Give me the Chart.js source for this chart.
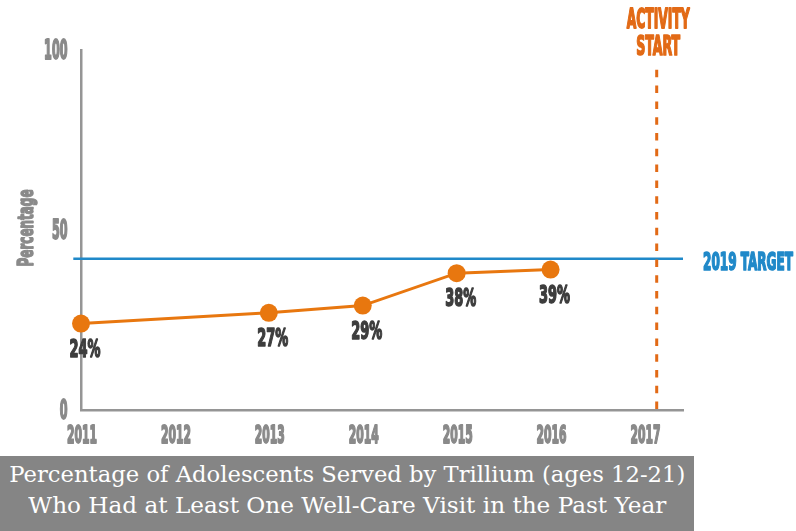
<!DOCTYPE html>
<html>
<head>
<meta charset="utf-8">
<script src="https://cdn.jsdelivr.net/npm/chart.js@4.4.1/dist/chart.umd.min.js"></script>
<style>
  html, body { margin: 0; padding: 0; background: #ffffff; }
  #wrap { position: relative; width: 796px; height: 531px; overflow: hidden; }
  #c { position: absolute; left: 0; top: 0; }
  #caption { position: absolute; left: 0; top: 456px; width: 694px; height: 75px; background: #858585; }
  .capline { position: absolute; left: 0; width: 694px; height: 24px; line-height: 24px; text-align: center;
             font-family: "DejaVu Serif", "Liberation Serif", serif; font-size: 21.5px; color: #ffffff; white-space: nowrap; }
  .capline span { display: inline-block; transform-origin: center center; }
</style>
</head>
<body>
<div id="wrap">
  <canvas id="c" width="796" height="531"></canvas>
  <div id="caption">
    <div class="capline" style="top:7px"><span id="cap1">Percentage of Adolescents Served by Trillium (ages 12-21)</span></div>
    <div class="capline" style="top:38px"><span id="cap2">Who Had at Least One Well-Care Visit in the Past Year</span></div>
  </div>
</div>
<script>
// ---- data ----
const tickYears = [2011, 2012, 2013, 2014, 2015, 2016, 2017];
const yTicks = [0, 50, 100];
const dataYears = [2011, 2013, 2014, 2015, 2016];
const pctValues = [24, 27, 29, 38, 39];
const targetValue = 42;
const targetLabel = '2019 TARGET';
const activityYear = 2017.13;
const activityTop = 94.5;
const activityLabel = ['ACTIVITY', 'START'];
const yTitle = 'Percentage';

const FAM = "'Liberation Sans Narrow', 'DejaVu Sans Condensed', 'Liberation Sans', sans-serif";
const ORANGE = '#e8770f';
const DORANGE = '#e26a16';
const BLUE = '#2089c9';
const GRAY = '#8a8a8a';
const DARK = '#3d3d3d';

// fit caption lines to widths
function fitCap(id, w) {
  const el = document.getElementById(id);
  const k = w / el.getBoundingClientRect().width;
  el.style.transform = 'scaleX(' + k + ')';
}
fitCap('cap1', 676);
fitCap('cap2', 638);

let K = null;
function condK(ctx) {
  if (K === null) {
    ctx.save();
    ctx.font = 'bold 25px ' + FAM;
    K = 30 / ctx.measureText('2011').width;
    ctx.restore();
  }
  return K;
}
// draw condensed bold text; optional target width w
function drawCond(ctx, text, x, y, size, color, align, rot, w) {
  ctx.save();
  ctx.font = 'bold ' + size + 'px ' + FAM;
  const k = w ? w / ctx.measureText(text).width : condK(ctx);
  ctx.fillStyle = color;
  ctx.strokeStyle = color;
  ctx.lineJoin = 'round';
  ctx.lineWidth = 0.9 / k;
  ctx.textAlign = align;
  ctx.textBaseline = 'alphabetic';
  ctx.translate(x, y);
  if (rot) ctx.rotate(rot);
  ctx.scale(k, 1);
  ctx.fillText(text, 0, 0);
  ctx.strokeText(text, 0, 0);
  ctx.restore();
}

const textPlugin = {
  id: 'texts',
  afterDraw(chart) {
    const ctx = chart.ctx;
    const xs = chart.scales.x, ys = chart.scales.y;
    // x tick labels
    xs.ticks.forEach(t => {
      drawCond(ctx, String(t.value), xs.getPixelForValue(t.value) + 1, 443, 25, GRAY, 'center', 0, 30);
    });
    // y tick labels
    ys.ticks.forEach(t => {
      const s = String(t.value);
      drawCond(ctx, s, 67.5, ys.getPixelForValue(t.value) + 8.5, 26, GRAY, 'right', 0, s.length * 7.8);
    });
    // y title
    drawCond(ctx, yTitle, 33, 228, 22, GRAY, 'center', -Math.PI / 2, 77);
    // data labels
    const meta = chart.getDatasetMeta(0);
    meta.data.forEach((pt, i) => {
      drawCond(ctx, pctValues[i] + '%', pt.x + 4, pt.y + 33, 25, DARK, 'center', 0, 31);
    });
    // target label
    drawCond(ctx, targetLabel, 703, ys.getPixelForValue(targetValue) + 10.7, 25, BLUE, 'left', 0, 90);
    // activity label
    const ax = xs.getPixelForValue(activityYear) + 1.5;
    drawCond(ctx, activityLabel[0], ax, 28.3, 27, DORANGE, 'center', 0, 63);
    drawCond(ctx, activityLabel[1], ax, 55, 27, DORANGE, 'center', 0, 44);
  }
};

const xMin = 2011, xMax = 2017.41;

new Chart(document.getElementById('c'), {
  type: 'line',
  data: {
    datasets: [
      {
        label: 'Percentage',
        data: dataYears.map((y, i) => ({ x: y, y: pctValues[i] })),
        borderColor: ORANGE,
        backgroundColor: ORANGE,
        borderWidth: 3,
        pointRadius: 9,
        pointBackgroundColor: ORANGE,
        pointBorderWidth: 0,
        tension: 0,
        clip: false,
        order: 0
      },
      {
        label: 'Target',
        data: [{ x: xMin - 0.082, y: targetValue }, { x: xMax, y: targetValue }],
        borderColor: BLUE,
        borderWidth: 2.5,
        pointRadius: 0,
        clip: false,
        order: 2
      },
      {
        label: 'Activity start',
        data: [{ x: activityYear, y: activityTop }, { x: activityYear, y: 0 }],
        borderColor: DORANGE,
        borderWidth: 3,
        borderDash: [7.5, 8.3],
        pointRadius: 0,
        clip: false,
        order: 1
      }
    ]
  },
  options: {
    responsive: false,
    animation: false,
    layout: { padding: { left: 81, right: 113, top: 50, bottom: 121 } },
    plugins: { legend: { display: false }, tooltip: { enabled: false } },
    scales: {
      x: {
        type: 'linear',
        min: xMin,
        max: xMax,
        afterBuildTicks: s => { s.ticks = tickYears.map(v => ({ value: v })); },
        afterFit: s => { s.height = 0; },
        ticks: { display: false },
        grid: { display: false, drawTicks: false },
        border: { display: true, color: '#959595', width: 2.5 }
      },
      y: {
        type: 'linear',
        min: 0,
        max: 100,
        afterBuildTicks: s => { s.ticks = yTicks.map(v => ({ value: v })); },
        afterFit: s => { s.width = 0; },
        ticks: { display: false },
        grid: { display: false, drawTicks: false },
        border: { display: true, color: '#959595', width: 2.5 }
      }
    }
  },
  plugins: [textPlugin]
});
</script>
</body>
</html>
